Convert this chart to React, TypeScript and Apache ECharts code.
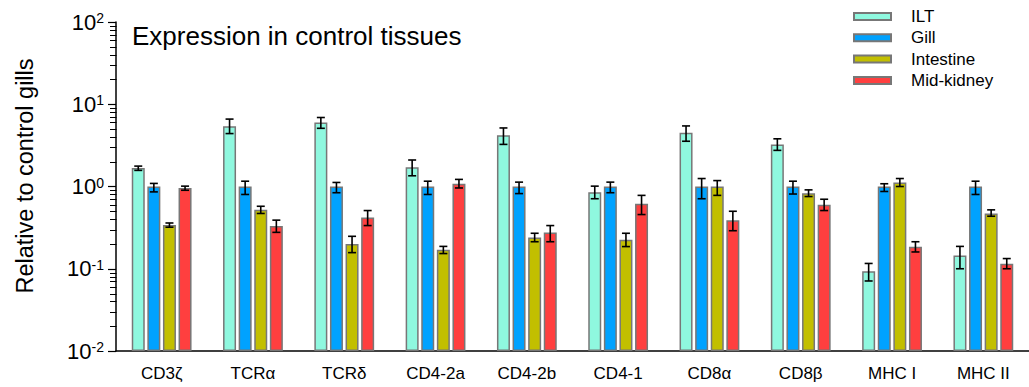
import React, { useEffect, useRef } from "react";
import * as echarts from "echarts";

const categories = ["CD3ζ", "TCRα", "TCRδ", "CD4-2a", "CD4-2b", "CD4-1", "CD8α", "CD8β", "MHC I", "MHC II"];
const seriesNames = ["ILT", "Gill", "Intestine", "Mid-kidney"];

const iltValues = [1.68, 5.4, 6.0, 1.72, 4.2, 0.85, 4.5, 3.25, 0.093, 0.145];
const iltLow = [1.57, 4.4, 5.1, 1.35, 3.25, 0.71, 3.55, 2.75, 0.071, 0.1];
const iltHigh = [1.77, 6.6, 6.9, 2.1, 5.15, 1.01, 5.45, 3.8, 0.116, 0.187];

const gillValues = [1.0, 1.0, 1.0, 1.0, 1.0, 1.0, 1.0, 1.0, 1.0, 1.0];
const gillLow = [0.86, 0.8, 0.84, 0.8, 0.82, 0.84, 0.71, 0.81, 0.87, 0.8];
const gillHigh = [1.09, 1.16, 1.12, 1.16, 1.13, 1.13, 1.25, 1.16, 1.08, 1.16];

const intestineValues = [0.34, 0.52, 0.2, 0.17, 0.24, 0.225, 1.0, 0.83, 1.12, 0.47];
const intestineLow = [0.32, 0.47, 0.157, 0.153, 0.213, 0.186, 0.78, 0.755, 1.0, 0.435];
const intestineHigh = [0.36, 0.575, 0.248, 0.187, 0.27, 0.27, 1.18, 0.91, 1.25, 0.52];

const kidneyValues = [0.96, 0.33, 0.42, 1.08, 0.275, 0.615, 0.39, 0.6, 0.185, 0.115];
const kidneyLow = [0.9, 0.277, 0.335, 0.96, 0.213, 0.456, 0.29, 0.51, 0.16, 0.1];
const kidneyHigh = [1.01, 0.39, 0.51, 1.22, 0.335, 0.78, 0.5, 0.7, 0.213, 0.133];

const minorTickValues = [-2, -1, 0, 1].flatMap((e) => [2, 3, 4, 5, 6, 7, 8, 9].map((m) => m * Math.pow(10, e)));

const colors = ["#8ff8df", "#00a2ff", "#c2bf00", "#ff3f3f"];
const FONT = "Liberation Sans, Arial, Helvetica, sans-serif";
const GRID_LEFT = 116;

export default function App() {
  const ref = useRef<HTMLDivElement>(null);
  useEffect(() => {
    document.body.style.margin = "0";
    const chart = echarts.init(ref.current!, null, { renderer: "svg" });
    const values = [iltValues, gillValues, intestineValues, kidneyValues];
    const lows = [iltLow, gillLow, intestineLow, kidneyLow];
    const highs = [iltHigh, gillHigh, intestineHigh, kidneyHigh];
    const barWidth = 13;
    const pitch = 15.6;

    const barSeries = seriesNames.map((name, i) => ({
      name,
      type: "bar",
      data: values[i],
      barWidth,
      barGap: "20%",
      itemStyle: { color: colors[i], borderColor: "#777777", borderWidth: 1.5 },
      z: 2,
    }));

    const errSeries = seriesNames.map((name, i) => ({
      name: name + " error",
      type: "custom",
      z: 5,
      encode: { x: 0, y: [1, 2] },
      data: categories.map((_, j) => [j, lows[i][j], highs[i][j]]),
      renderItem: (params: any, api: any) => {
        const idx = api.value(0);
        const lo = api.coord([idx, api.value(1)]);
        const hi = api.coord([idx, api.value(2)]);
        const x = lo[0] + (i - 1.5) * pitch;
        const cap = 4;
        const style = { stroke: "#000", lineWidth: 1.6 };
        return {
          type: "group",
          children: [
            { type: "line", shape: { x1: x, y1: lo[1], x2: x, y2: hi[1] }, style },
            { type: "line", shape: { x1: x - cap, y1: lo[1], x2: x + cap, y2: lo[1] }, style },
            { type: "line", shape: { x1: x - cap, y1: hi[1], x2: x + cap, y2: hi[1] }, style },
          ],
        };
      },
    }));

    chart.setOption({
      animation: false,
      backgroundColor: "#fff",
      textStyle: { fontFamily: FONT },
      title: {
        text: "Expression in control tissues",
        left: 127,
        top: 18,
        textStyle: { fontSize: 26, fontWeight: "normal", color: "#000", fontFamily: FONT },
      },
      legend: {
        data: seriesNames,
        orient: "vertical",
        left: 848,
        top: 3,
        itemWidth: 37,
        itemHeight: 7,
        itemGap: 4.3,
        icon: "rect",
        textStyle: { fontSize: 17, color: "#000", fontFamily: FONT, lineHeight: 17, padding: [0, 0, 0, 15] },
      },
      grid: { left: GRID_LEFT, width: 920, top: 22, bottom: 387 - 351, containLabel: false },
      xAxis: {
        type: "category",
        data: categories,
        axisLine: { lineStyle: { color: "#000", width: 1.5 } },
        axisTick: { show: false },
        axisLabel: { color: "#000", fontSize: 17, margin: 14, fontFamily: FONT, interval: 0 },
      },
      yAxis: {
        type: "log",
        logBase: 10,
        min: 0.01,
        max: 100,
        startValue: 0.01,
        splitLine: { show: false },
        axisLine: { show: true, lineStyle: { color: "#000", width: 1.5 } },
        axisTick: { show: true, length: 8, lineStyle: { color: "#000", width: 1.2 } },
        axisLabel: {
          margin: 12,
          formatter: (v: number) => {
            const e = Math.round(Math.log10(v));
            return "{b|10}{s|" + String(e) + "}";
          },
          rich: {
            b: { fontSize: 22, color: "#000", fontFamily: FONT, lineHeight: 22 },
            s: { fontSize: 14, color: "#000", fontFamily: FONT, lineHeight: 14, verticalAlign: "top" },
          },
        },
      },
      series: [...barSeries, ...errSeries],
    });

    const tickLines = minorTickValues.map((v) => {
      const raw = chart.convertToPixel({ yAxisIndex: 0 }, v) as number;
      const y = Math.round(raw) + 0.5;
      return {
        type: "line",
        z: 100,
        shape: { x1: GRID_LEFT - 6, y1: y, x2: GRID_LEFT + 0.5, y2: y },
        style: { stroke: "#000000", lineWidth: 1 },
      };
    });
    chart.setOption({
      graphic: [
        {
          type: "text",
          x: 25,
          y: 176,
          rotation: Math.PI / 2,
          style: {
            text: "Relative to control gills",
            fontSize: 23.5,
            fontFamily: FONT,
            fill: "#000",
            textAlign: "center",
            textVerticalAlign: "middle",
          },
        },
        { type: "group", children: tickLines },
      ],
    });
    return () => chart.dispose();
  }, []);
  return <div ref={ref} style={{ width: 1029, height: 387 }} />;
}
